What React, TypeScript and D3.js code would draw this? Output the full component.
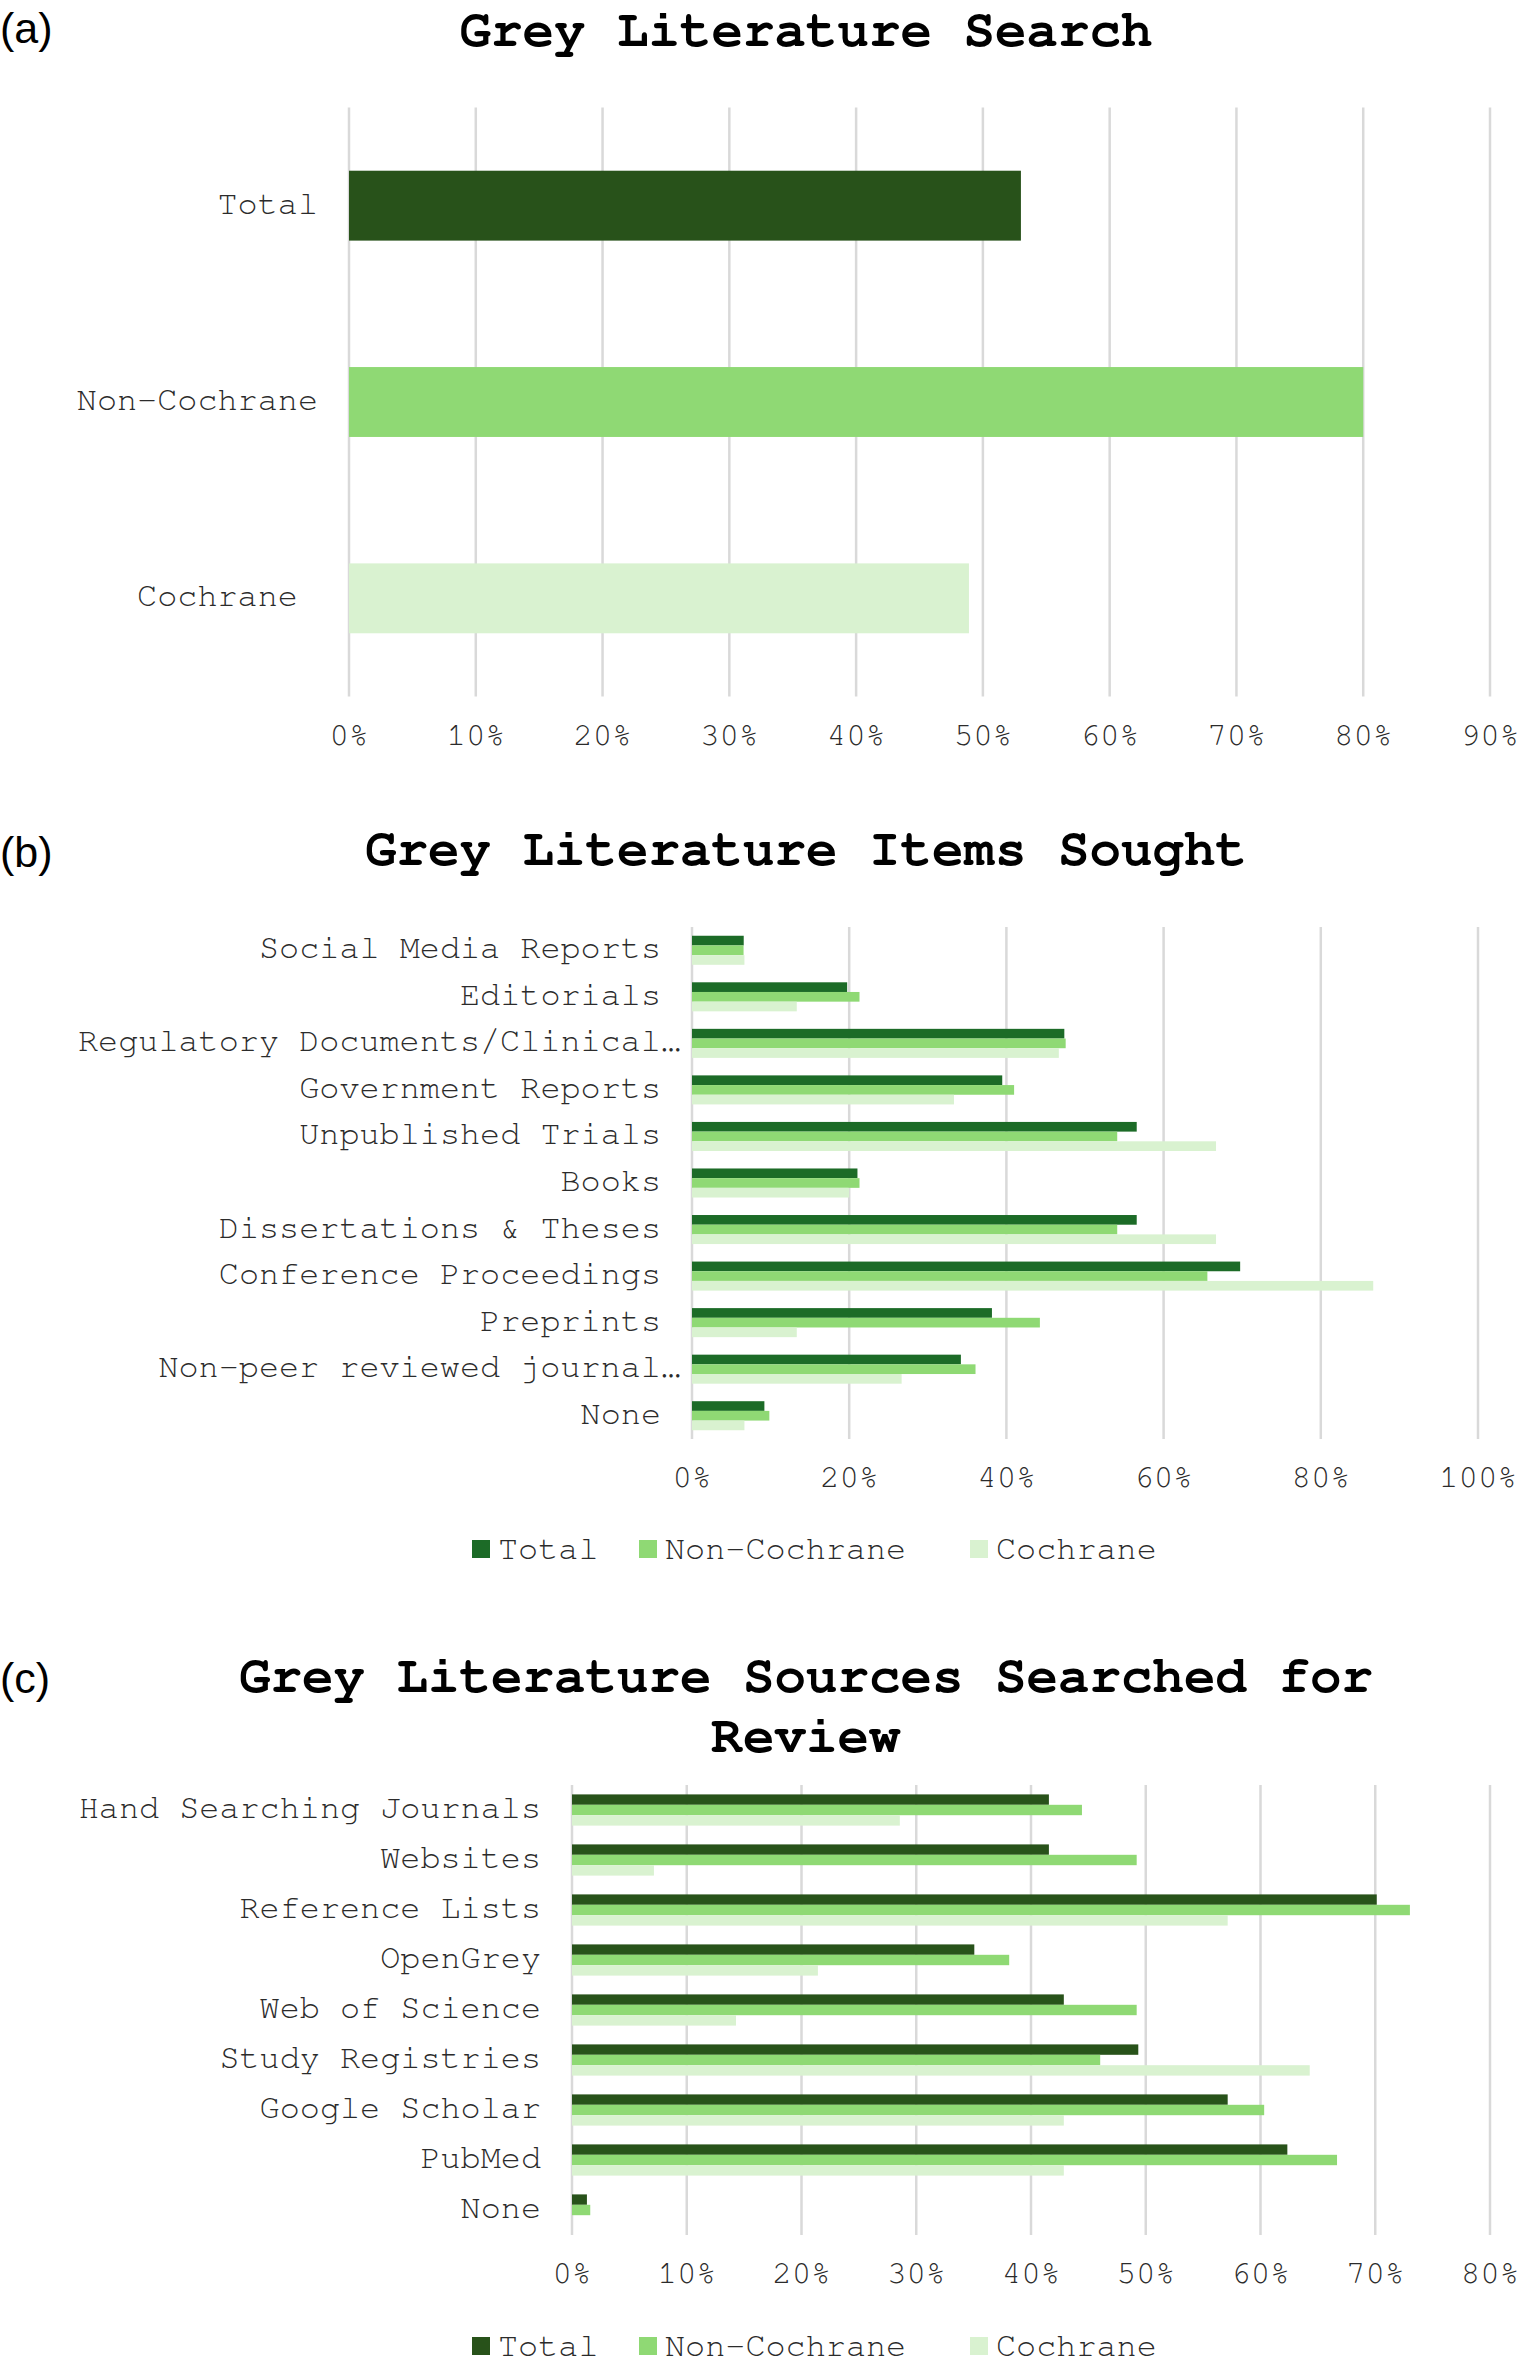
import React from 'react';
import * as d3 from 'd3';

// ---------- DATA ----------
const seriesNames = ['Total', 'Non-Cochrane', 'Cochrane'];

// (a) Grey Literature Search
const searchCategories = ['Total', 'Non-Cochrane', 'Cochrane '];
const searchValues = [53.0, 80.0, 48.9];
const searchTicks = [0, 10, 20, 30, 40, 50, 60, 70, 80, 90];

// (b) Grey Literature Items Sought
const itemCategories = [
  'Social Media Reports',
  'Editorials',
  'Regulatory Documents/Clinical…',
  'Government Reports',
  'Unpublished Trials',
  'Books',
  'Dissertations & Theses',
  'Conference Proceedings',
  'Preprints',
  'Non-peer reviewed journal…',
  'None',
];
const itemTotal = [6.58, 19.74, 47.37, 39.47, 56.58, 21.05, 56.58, 69.74, 38.16, 34.21, 9.21];
const itemNonCochrane = [6.56, 21.31, 47.54, 40.98, 54.1, 21.31, 54.1, 65.57, 44.26, 36.07, 9.84];
const itemCochrane = [6.67, 13.33, 46.67, 33.33, 66.67, 20.0, 66.67, 86.67, 13.33, 26.67, 6.67];
const itemTicks = [0, 20, 40, 60, 80, 100];

// (c) Grey Literature Sources Searched for Review
const sourceCategories = [
  'Hand Searching Journals',
  'Websites',
  'Reference Lists',
  'OpenGrey',
  'Web of Science',
  'Study Registries',
  'Google Scholar',
  'PubMed',
  'None',
];
const sourceTotal = [41.56, 41.56, 70.13, 35.06, 42.86, 49.35, 57.14, 62.34, 1.3];
const sourceNonCochrane = [44.44, 49.21, 73.02, 38.1, 49.21, 46.03, 60.32, 66.67, 1.59];
const sourceCochrane = [28.57, 7.14, 57.14, 21.43, 14.29, 64.29, 42.86, 42.86, 0];
const sourceTicks = [0, 10, 20, 30, 40, 50, 60, 70, 80];

// ---------- STYLE ----------
const W = 1529;
const H = 2362;
const MONO = '"Nimbus Mono PS", "Nimbus Mono L", "FreeMono", "Courier 10 Pitch", "Courier New", "Liberation Mono", monospace';
const SANS = '"Liberation Sans", Arial, sans-serif';
const GRID = '#d9d9d9';
const LIGHT = '#d9f2d0';
const MID = '#8fd974';
const DARK_A = '#28521a';
const DARK_B = '#1c6b27';
const FS = 33.5;
const TICK_FS = 32.5;
const TITLE_FS = 52.5;
const TEXT = '#2b2b2b';

type Layout = { left: number; right: number; top: number; bottom: number; max: number };

function Grid({ x, ticks, top, bottom }: { x: d3.ScaleLinear<number, number>; ticks: number[]; top: number; bottom: number }) {
  return (
    <g>
      {ticks.map((t) => (
        <line key={'g' + t} x1={x(t)} x2={x(t)} y1={top} y2={bottom} stroke={GRID} strokeWidth={2.5} />
      ))}
      {ticks.map((t) => (
        <text key={'t' + t} x={x(t)} y={bottom + 48} textAnchor="middle" fontFamily={MONO} fontSize={TICK_FS} fill={TEXT}>
          {t + '%'}
        </text>
      ))}
    </g>
  );
}

function CatLabels({ y, cats, left }: { y: d3.ScaleBand<string>; cats: string[]; left: number }) {
  return (
    <g>
      {cats.map((c) => (
        <text
          key={c}
          x={left - 31 + (c.endsWith('…') ? 20 : 0)}
          y={(y(c) as number) + y.bandwidth() / 2}
          dy="0.24em"
          textAnchor="end"
          fontFamily={MONO}
          fontSize={FS}
          fill={TEXT}
          xmlSpace="preserve"
          style={{ whiteSpace: 'pre' }}
        >
          {c}
        </text>
      ))}
    </g>
  );
}

function Title({ lines, ys, tag, tagY }: { lines: string[]; ys: number[]; tag: string; tagY: number }) {
  return (
    <g>
      <text x={0} y={tagY} fontFamily={SANS} fontSize={43} fill="#000">
        {tag}
      </text>
      {lines.map((l, i) => (
        <text key={l} x={806} y={ys[i]} textAnchor="middle" fontFamily={MONO} fontWeight="bold" fontSize={TITLE_FS} fill="#000">
          {l}
        </text>
      ))}
    </g>
  );
}

function Legend({ y, colors }: { y: number; colors: string[] }) {
  const xs = [472, 639, 970];
  return (
    <g>
      {seriesNames.map((s, i) => (
        <g key={s}>
          <rect x={xs[i]} y={y - 9} width={18} height={18} fill={colors[i]} />
          <text x={xs[i] + 26} y={y + 10} fontFamily={MONO} fontSize={FS} fill={TEXT}>
            {s}
          </text>
        </g>
      ))}
    </g>
  );
}

function SimplePanel() {
  const L: Layout = { left: 349, right: 1490, top: 107.5, bottom: 696.5, max: 90 };
  const x = d3.scaleLinear().domain([0, L.max]).range([L.left, L.right]);
  const y = d3.scaleBand<string>().domain(searchCategories).range([L.top, L.bottom]).paddingInner(0.644).paddingOuter(0.322);
  const colors = [DARK_A, MID, LIGHT];
  return (
    <g>
      <Title lines={['Grey Literature Search']} ys={[46]} tag="(a)" tagY={43} />
      <Grid x={x} ticks={searchTicks} top={L.top} bottom={L.bottom} />
      {searchCategories.map((c, i) => (
        <rect key={c} x={x(0)} y={y(c)} width={x(searchValues[i]) - x(0)} height={y.bandwidth()} fill={colors[i]} />
      ))}
      <CatLabels y={y} cats={searchCategories} left={L.left} />
    </g>
  );
}

function GroupedPanel({
  L, cats, series, ticks, colors, titleLines, titleYs, tag, tagY, legendY,
}: {
  L: Layout; cats: string[]; series: number[][]; ticks: number[]; colors: string[];
  titleLines: string[]; titleYs: number[]; tag: string; tagY: number; legendY: number;
}) {
  const x = d3.scaleLinear().domain([0, L.max]).range([L.left, L.right]);
  const y0 = d3.scaleBand<string>().domain(cats).range([L.top, L.bottom]).paddingInner(0.376).paddingOuter(0.188);
  const y1 = d3.scaleBand<string>().domain(seriesNames).range([0, y0.bandwidth()]);
  return (
    <g>
      <Title lines={titleLines} ys={titleYs} tag={tag} tagY={tagY} />
      <Grid x={x} ticks={ticks} top={L.top} bottom={L.bottom} />
      {cats.map((c, ci) => (
        <g key={c} transform={`translate(0,${y0(c)})`}>
          {seriesNames.map((s, si) => (
            <rect
              key={s}
              x={x(0)}
              y={y1(s)}
              width={Math.max(0, x(series[si][ci]) - x(0))}
              height={y1.bandwidth()}
              fill={colors[si]}
            />
          ))}
        </g>
      ))}
      <CatLabels y={y0} cats={cats} left={L.left} />
      <Legend y={legendY} colors={colors} />
    </g>
  );
}

export default function App() {
  return (
    <svg width={W} height={H} style={{ position: 'absolute', left: 0, top: 0, background: '#fff' }}>
      <rect x={0} y={0} width={W} height={H} fill="#fff" />
      <SimplePanel />
      <GroupedPanel
        L={{ left: 692, right: 1478, top: 927, bottom: 1439, max: 100 }}
        cats={itemCategories}
        series={[itemTotal, itemNonCochrane, itemCochrane]}
        ticks={itemTicks}
        colors={[DARK_B, MID, LIGHT]}
        titleLines={['Grey Literature Items Sought']}
        titleYs={[865]}
        tag="(b)"
        tagY={867}
        legendY={1549}
      />
      <GroupedPanel
        L={{ left: 572, right: 1490, top: 1785, bottom: 2235, max: 80 }}
        cats={sourceCategories}
        series={[sourceTotal, sourceNonCochrane, sourceCochrane]}
        ticks={sourceTicks}
        colors={[DARK_A, MID, LIGHT]}
        titleLines={['Grey Literature Sources Searched for', 'Review']}
        titleYs={[1692, 1752]}
        tag="(c)"
        tagY={1693}
        legendY={2346}
      />
    </svg>
  );
}
